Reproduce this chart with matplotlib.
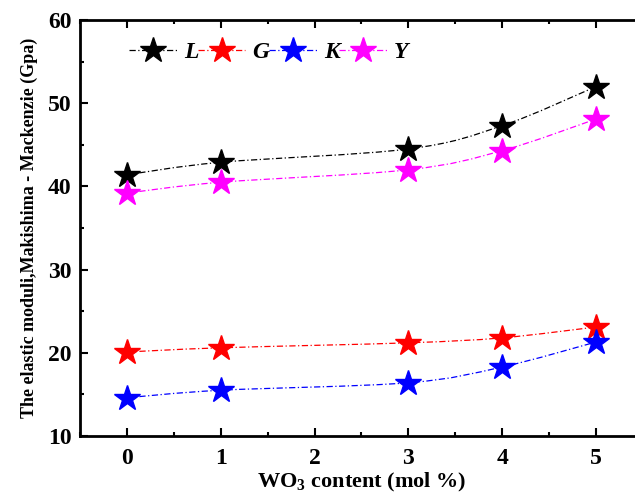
import numpy as np
import matplotlib
matplotlib.use("Agg")
import matplotlib.pyplot as plt
from matplotlib.path import Path
from matplotlib.patches import PathPatch
from matplotlib.lines import Line2D
from matplotlib.ticker import MultipleLocator

# WO3 content (mol %)
wo3 = [0, 1, 3, 4, 5]
L_mod = [41.4, 42.9, 44.5, 47.3, 52.0]
G_mod = [20.1, 20.6, 21.2, 21.8, 23.1]
K_mod = [14.6, 15.5, 16.4, 18.3, 21.3]
Y_mod = [39.2, 40.5, 42.0, 44.3, 48.1]

labels = ["L", "G", "K", "Y"]
colors = ["black", "red", "blue", "magenta"]

plt.rcParams["font.family"] = ["Liberation Serif", "DejaVu Serif"]
plt.rcParams["font.weight"] = "bold"
plt.rcParams["mathtext.fontset"] = "custom"
plt.rcParams["mathtext.rm"] = "Liberation Serif:bold"
plt.rcParams["mathtext.bf"] = "Liberation Serif:bold"


def smooth_path(x, y):
    # Catmull-Rom -> cubic bezier control points, drawn by matplotlib's Path
    x = np.asarray(x, float)
    y = np.asarray(y, float)
    pts = np.column_stack([x, y])
    verts = [pts[0]]
    codes = [Path.MOVETO]
    n = len(pts)
    for i in range(n - 1):
        p0 = pts[i - 1] if i > 0 else pts[i]
        p1 = pts[i]
        p2 = pts[i + 1]
        p3 = pts[i + 2] if i + 2 < n else pts[i + 1]
        c1 = p1 + (p2 - p0) / 6.0
        c2 = p2 - (p3 - p1) / 6.0
        verts += [c1, c2, p2]
        codes += [Path.CURVE4] * 3
    return Path(verts, codes)


fig = plt.figure(figsize=(6.35, 5.01), dpi=100)
ax = fig.add_axes([80 / 635, 65 / 501, 563 / 635, 416 / 501])

handles = []
for vals, lab, col in zip([L_mod, G_mod, K_mod, Y_mod], labels, colors):
    patch = PathPatch(smooth_path(wo3, vals), facecolor="none", edgecolor=col,
                      lw=0.9, ls=(0, (5, 2, 1, 2)), transform=ax.transData, zorder=2)
    ax.add_patch(patch)
    ax.plot(wo3, vals, ls="none", marker="*", ms=19, color=col, zorder=3)
    handles.append(Line2D([], [], color=col, lw=0.9, ls=(0, (5, 2, 1, 2)),
                          marker="*", ms=19))

ax.set_xlim(-0.5, 5.5)
ax.set_ylim(10, 60)
ax.xaxis.set_major_locator(MultipleLocator(1))
ax.xaxis.set_minor_locator(MultipleLocator(0.5))
ax.yaxis.set_major_locator(MultipleLocator(10))
ax.yaxis.set_minor_locator(MultipleLocator(5))
ax.tick_params(which="both", direction="in", width=1.5, labelsize=17, pad=6)
ax.tick_params(which="major", length=6)
ax.tick_params(which="minor", length=3)
ax.tick_params(axis="x", which="both", top=True)
ax.tick_params(axis="x", which="major", pad=9)
for t in ax.get_xticklabels() + ax.get_yticklabels():
    t.set_fontweight("bold")
for s in ax.spines.values():
    s.set_linewidth(2)

ax.set_xlabel("WO$_\\mathbf{3}$ content (mol %)", fontsize=16, fontweight="bold", labelpad=1)
ax.set_ylabel("The elastic moduli,Makishima - Mackenzie (Gpa)", fontsize=13,
              fontweight="bold", labelpad=7)

leg = ax.legend(handles, labels, ncol=4, frameon=False, loc="upper left",
                bbox_to_anchor=(0.05, 1.0), handlelength=2.0, handletextpad=0.3,
                columnspacing=0.0, prop={"size": 17, "style": "italic", "weight": "bold"})

fig.savefig("out.png", dpi=100)
